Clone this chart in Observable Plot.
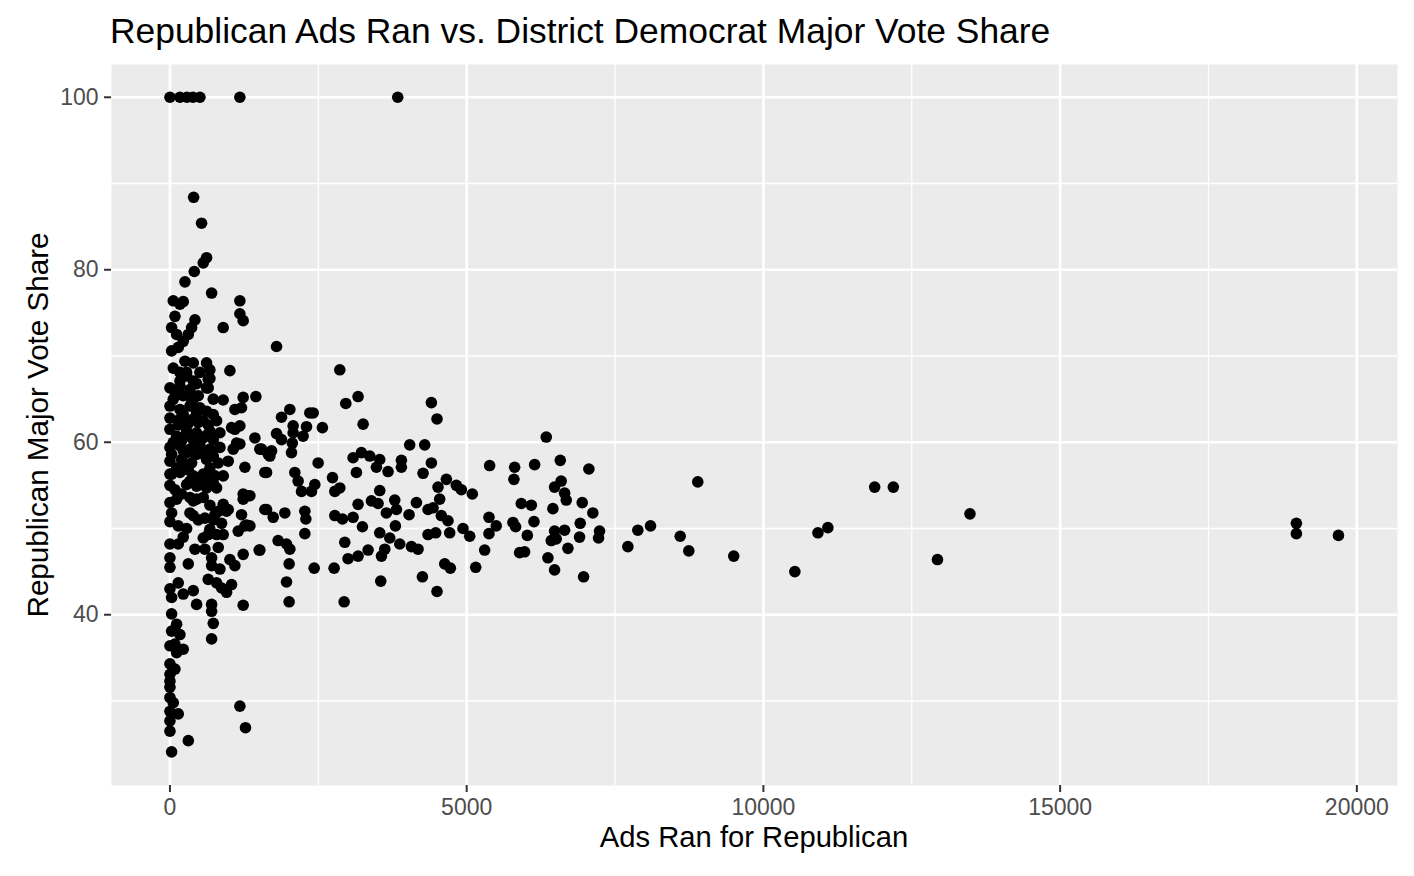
<!DOCTYPE html>
<html>
<head>
<meta charset="utf-8">
<script src="https://cdn.jsdelivr.net/npm/d3@7"></script>
<script src="https://cdn.jsdelivr.net/npm/@observablehq/plot@0.6"></script>
<style>
html, body { margin: 0; padding: 0; background: #ffffff; }
#wrap { position: relative; width: 1414px; height: 876px; font-family: 'Liberation Sans', Arial, Helvetica, sans-serif; color: #000; overflow: hidden; }
#title { position: absolute; left: 110px; top: 14px; font-size: 35.4px; line-height: 1; white-space: nowrap; }
#chart { position: absolute; left: 0; top: 56px; }
#xlab { position: absolute; left: 754px; top: 823px; font-size: 29.2px; line-height: 1; transform: translateX(-50%); white-space: nowrap; }
#ylab { position: absolute; left: 38px; top: 425px; font-size: 29.6px; line-height: 1; transform: translate(-50%, -50%) rotate(-90deg); white-space: nowrap; }
</style>
</head>
<body>
<div id="wrap">
  <div id="title"></div>
  <div id="chart"></div>
  <div id="xlab"></div>
  <div id="ylab"></div>
</div>
<script>
// ---- Text ----
const titleText = "Republican Ads Ran vs. District Democrat Major Vote Share";
const xTitle = "Ads Ran for Republican";
const yTitle = "Republican Major Vote Share";

// ---- Axis ticks ----
const xTicks = [0, 5000, 10000, 15000, 20000];
const xMinorTicks = [2500, 7500, 12500, 17500];
const yTicks = [40, 60, 80, 100];
const yMinorTicks = [30, 50, 70, 90];
const xDomain = [-985, 20685];
const yDomain = [20.2, 103.8];

// ---- Data: districts with few ads (dense cluster near zero) ----
const lowAds = [
  0,168,286,387,505,1178,3838,399,533,617,
  561,410,253,702,56,168,224,1178,1178,1234,
  84,421,897,28,365,309,112,224,28,140,
  1796,56,253,393,617,673,1010,281,393,673,
  645,0,168,168,505,281,645,168,337,617,
  2862,56,224,393,477,897,1234,1448,1094,1206,
  0,168,337,449,617,730,0,168,393,561,
  786,1038,1178,2963,3170,2020,1880,2357,2413,3255,
  2076,2076,2301,2244,2569,1796,1880,1431,2062,1515,
  1712,1684,2048,4405,4500,6341,0,112,281,449,
  673,842,1094,0,168,337,505,673,842,1066,
  1178,1122,1543,1655,0,196,365,617,814,982,
  1263,1599,0,168,393,561,758,898,28,84,
  281,449,617,1234,1318,112,449,897,1234,393,
  1599,982,758,814,1206,28,337,393,954,1290,
  1150,1263,673,645,561,786,897,0,140,421,
  814,589,1515,1234,0,0,702,702,1010,1094,
  309,842,140,645,786,1038,0,28,224,393,
  449,702,702,954,870,1234,28,730,702,112,
  28,168,0,84,224,112,0,84,0,0,
  0,0,56,0,140,0,0,309,28,1178,1273,
  224,393,561,730,281,449,730,224,673,337,505,730
];
const lowShare = [
  100,100,100,100,100,100,100,88.4,85.4,81.4,
  80.8,79.8,78.6,77.3,76.4,76.0,76.3,76.4,74.9,74.1,
  74.6,74.2,73.3,73.3,73.3,72.5,72.5,71.7,70.6,71.0,
  71.1,68.6,69.4,69.2,69.2,68.4,68.3,68.1,67.1,67.4,
  66.3,66.3,67.1,68.1,68.1,67.7,67.3,66.5,66.1,66.3,
  68.4,65.0,65.4,65.0,65.4,64.9,65.2,65.3,63.8,64.0,
  64.2,63.8,64.2,63.4,63.6,63.2,62.8,62.7,62.7,62.5,
  62.5,61.7,61.9,64.5,65.3,63.8,62.9,63.4,63.4,62.1,
  61.9,61.1,61.8,60.7,61.7,61.0,60.3,60.5,59.9,59.2,
  59.0,58.4,58.8,64.6,62.7,60.6,61.5,60.7,61.3,61.1,
  61.3,61.1,61.5,59.4,59.6,59.2,59.6,59.2,59.4,59.2,
  59.8,59.9,59.2,58.6,57.8,58.0,57.6,58.0,57.6,57.8,
  57.1,56.5,56.3,56.5,56.1,56.3,56.1,56.1,56.3,54.5,
  55.1,54.9,54.7,54.0,53.8,53.4,53.4,52.8,53.4,53.2,
  52.2,52.2,51.6,52.0,51.6,51.8,51.8,51.5,52.0,50.4,
  49.7,50.3,49.9,49.3,48.9,49.3,49.3,48.2,48.2,47.6,
  47.8,47.6,47.5,47.0,46.6,45.5,46.6,45.7,46.4,45.7,
  45.9,45.3,43.7,44.1,43.7,43.5,43.0,42.0,42.4,42.8,
  41.2,41.2,40.4,42.6,43.1,41.1,40.1,39.0,37.2,38.9,
  38.1,37.7,36.4,36.6,36.0,35.6,34.3,33.7,33.1,32.3,
  31.6,30.4,29.8,28.8,28.5,27.7,26.5,25.4,24.1,29.4,26.9,
  60.5,60.3,60.5,60.3,58.8,58.6,58.4,57.2,57.0,55.5,55.7,55.3
];

// ---- Data: more districts hidden in the dense core near zero ads ----
const coreAds = [
  140,309,477,645,224,56,224,393,561,112,
  309,561,673,786,196,337,561,673,589,730,
  477,140,281,870,224,0,0,0,84,449,
  365,505,196,28,730,617
];
const coreShare = [
  62.0,62.2,62.3,62.0,63.2,60.0,59.0,58.8,58.7,57.0,
  56.8,55.3,55.8,54.7,54.0,53.6,53.6,52.7,51.2,51.0,
  51.0,50.3,50.0,50.6,49.0,55.0,53.0,50.8,65.8,66.8,
  64.6,64.0,60.2,58.6,65.0,60.8
];

// ---- Data: moderate ad counts (about 1,300 to 4,400) ----
const midAds = [
  3086,3226,3367,3535,3900,3900,3479,3675,2497,1628,
  2104,2160,2441,2385,2217,3142,4265,2739,2778,2862,
  3535,1347,3395,3507,3788,3816,4153,3647,3170,1628,
  1740,1936,2273,2290,2273,2778,2907,3086,4029,4349,
  1347,3243,3799,3535,3704,4349,3872,4069,4180,1823,
  1964,2020,1503,2946,3339,3170,3001,3620,3564,2008,
  2430,2766,1964,3552,4254,2008,2935,4040,4293
];
const midShare = [
  58.2,58.8,58.4,58.0,57.9,57.1,57.1,56.6,57.6,56.5,
  56.5,55.5,55.1,54.3,54.3,56.5,56.4,55.9,54.3,54.7,
  54.4,53.8,53.2,52.9,53.3,52.2,53.0,51.8,52.8,52.2,
  51.3,51.8,52.0,51.1,49.4,51.5,51.1,51.3,51.6,52.2,
  50.3,50.2,50.3,49.5,48.9,49.3,48.2,47.9,47.6,48.6,
  48.2,47.6,47.5,48.4,47.5,46.8,46.5,47.6,46.8,45.9,
  45.4,45.4,43.8,43.9,44.4,41.5,41.5,59.7,59.7
];

// ---- Data: higher ad counts (about 4,400 to 7,300) ----
const highAds = [
  4405,5387,5808,5796,6145,6577,7059,4658,4517,4826,
  4910,5095,6592,6481,6650,6678,4545,4433,5920,6089,
  6453,6947,7126,4573,4685,4714,4938,5051,4478,5376,
  5498,5376,5780,5825,6134,6022,6481,6650,6425,6509,
  6913,6902,7239,7222,5303,5892,5976,6706,6369,4630,
  4725,5152,6481,6970,4500
];
const highShare = [
  57.6,57.3,57.1,55.7,57.4,57.9,56.9,55.7,54.8,55.0,
  54.5,54.0,55.5,54.8,54.1,53.3,53.4,52.4,52.9,52.7,
  52.3,53.0,51.8,51.5,50.9,49.5,50.0,49.1,49.5,51.3,
  50.3,49.4,50.7,50.2,50.8,49.2,49.7,49.8,48.6,48.8,
  50.6,49.0,49.7,48.9,47.5,47.2,47.3,47.7,46.6,45.9,
  45.4,45.5,45.2,44.4,42.7
];

// ---- Data: outliers with very many ads ----
const topAds = [8894,7884,8098,7716,8598,8743,9500,10530,10919,11086,11875,12189,12933,13481,18981,18981,19690];
const topShare = [55.4,49.8,50.3,47.9,49.1,47.4,46.8,45.0,49.5,50.1,54.8,54.8,46.4,51.7,50.6,49.4,49.2];

// ---- Build table ----
const groups = [[lowAds, lowShare], [coreAds, coreShare], [midAds, midShare], [highAds, highShare], [topAds, topShare]];
const points = [];
for (const [xs, ys] of groups) {
  const n = Math.min(xs.length, ys.length);
  for (let i = 0; i < n; i++) points.push({ads: xs[i], share: ys[i]});
}

document.getElementById("title").textContent = titleText;
document.getElementById("xlab").textContent = xTitle;
document.getElementById("ylab").textContent = yTitle;

const tickColor = "#4D4D4D";
const chart = Plot.plot({
  width: 1414,
  height: 820,
  marginTop: 8,
  marginBottom: 91,
  marginLeft: 111,
  marginRight: 17,
  style: {fontFamily: "'Liberation Sans', Arial, Helvetica, sans-serif", background: "transparent", overflow: "visible"},
  x: {domain: xDomain, label: null},
  y: {domain: yDomain, label: null},
  marks: [
    Plot.frame({fill: "#EBEBEB", stroke: "none"}),
    Plot.gridX(xMinorTicks, {stroke: "#FFFFFF", strokeOpacity: 1, strokeWidth: 1.3}),
    Plot.gridY(yMinorTicks, {stroke: "#FFFFFF", strokeOpacity: 1, strokeWidth: 1.3}),
    Plot.gridX(xTicks, {stroke: "#FFFFFF", strokeOpacity: 1, strokeWidth: 2.6}),
    Plot.gridY(yTicks, {stroke: "#FFFFFF", strokeOpacity: 1, strokeWidth: 2.6}),
    Plot.axisX(xTicks, {tickSize: 7, tickPadding: 6, fontSize: 23, color: tickColor, stroke: "#333333", strokeWidth: 2, tickFormat: d => String(d), label: null}),
    Plot.axisY(yTicks, {tickSize: 7, tickPadding: 6, fontSize: 23, color: tickColor, stroke: "#333333", strokeWidth: 2, tickFormat: d => String(d), label: null}),
    Plot.dot(points, {x: "ads", y: "share", r: 5.8, fill: "#000000", stroke: "none"})
  ]
});
document.getElementById("chart").appendChild(chart);
</script>
</body>
</html>
